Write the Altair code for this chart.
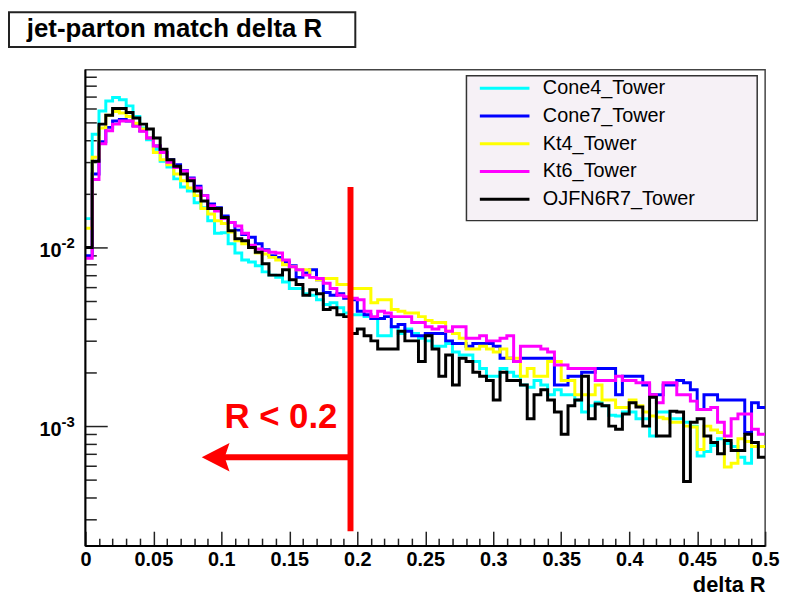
import altair as alt
import pandas as pd

# ---------------- data ----------------
bin_width = 0.005
names = ["Cone4_Tower", "Cone7_Tower", "Kt4_Tower", "Kt6_Tower", "OJFN6R7_Tower"]
colors = ["#00ffff", "#0000ff", "#ffff00", "#ff00ff", "#000000"]

cone4 = [0.0145, 0.043, 0.058, 0.066, 0.069, 0.067, 0.062, 0.054, 0.0466, 0.040,
         0.0355, 0.0304, 0.0282, 0.0242, 0.0218, 0.0207, 0.0178, 0.0167, 0.0141, 0.0120,
         0.0121, 0.0105, 0.0093, 0.0085, 0.0083, 0.0079, 0.0073, 0.0070, 0.0068, 0.0064,
         0.0059, 0.0059, 0.0055, 0.0054, 0.0051, 0.0048, 0.0049, 0.0046, 0.0043, 0.0042,
         0.0042, 0.0041, 0.0040, 0.0032, 0.0032, 0.0036, 0.0033, 0.0035, 0.0033, 0.0031,
         0.0030, 0.0028, 0.0028, 0.0029, 0.0026, 0.0025, 0.0025, 0.0023, 0.0021, 0.0019,
         0.0019, 0.0021, 0.0020, 0.0019, 0.0017, 0.00165, 0.0018, 0.0017, 0.0015, 0.0016,
         0.0015, 0.0015, 0.0014, 0.0012, 0.0013, 0.00136, 0.0013, 0.00115, 0.00114, 0.0012,
         0.0012, 0.0011, 0.0011, 0.00088, 0.0012, 0.0012, 0.0011, 0.0011, 0.00105, 0.0010,
         0.00068, 0.00072, 0.00078, 0.00085, 0.0008, 0.00077, 0.00067, 0.00062, 0.00077, 0.00077]

cone7 = [0.0090, 0.0258, 0.039, 0.047, 0.051, 0.052, 0.051, 0.048, 0.045, 0.041,
         0.037, 0.034, 0.031, 0.029, 0.027, 0.0245, 0.022, 0.0195, 0.0175, 0.0167,
         0.0150, 0.0138, 0.0125, 0.0118, 0.0114, 0.0105, 0.0097, 0.0090, 0.0088, 0.0083,
         0.0079, 0.0068, 0.0072, 0.0075, 0.0066, 0.0056, 0.0054, 0.0055, 0.0052, 0.0051,
         0.0044, 0.0042, 0.0040, 0.0040, 0.0041, 0.0036, 0.0037, 0.0034, 0.0032, 0.0032,
         0.0033, 0.0033, 0.0033, 0.0030, 0.0029, 0.0029, 0.0028, 0.0029, 0.0029, 0.0029,
         0.0028, 0.0024, 0.0024, 0.0023, 0.0024, 0.0024, 0.0024, 0.0024, 0.0024, 0.0017,
         0.0017, 0.0019, 0.0019, 0.0020, 0.0020, 0.0021, 0.0021, 0.0021, 0.0015, 0.0019,
         0.0019, 0.0019, 0.0017, 0.0015, 0.0015, 0.0017, 0.0017, 0.0018, 0.00175, 0.0016,
         0.00124, 0.0015, 0.0015, 0.0014, 0.0014, 0.0014, 0.0014, 0.00092, 0.00135, 0.00127]

kt4 = [0.0128, 0.032, 0.0466, 0.055, 0.0577, 0.0565, 0.054, 0.0495, 0.046, 0.041,
       0.034, 0.031, 0.029, 0.0258, 0.0236, 0.0215, 0.0195, 0.0165, 0.0154, 0.0141,
       0.0136, 0.0122, 0.0109, 0.0105, 0.0100, 0.0093, 0.0092, 0.0088, 0.0085, 0.0080,
       0.0078, 0.0075, 0.0075, 0.0068, 0.0066, 0.0067, 0.0067, 0.0062, 0.0062, 0.0059,
       0.0059, 0.0059, 0.0049, 0.0051, 0.0051, 0.0045, 0.0044, 0.0043, 0.0043, 0.0041,
       0.0039, 0.0038, 0.0038, 0.0034, 0.0033, 0.0031, 0.0027, 0.0027, 0.0028, 0.0027,
       0.0026, 0.0027, 0.0024, 0.0024, 0.0019, 0.0021, 0.0019, 0.0019, 0.0023, 0.0023,
       0.0018, 0.0018, 0.0015, 0.0015, 0.0015, 0.0017, 0.0014, 0.0014, 0.00127, 0.00127,
       0.0014, 0.0013, 0.0012, 0.00114, 0.00112, 0.0011, 0.00105, 0.00105, 0.0010, 0.00099,
       0.00074, 0.0010, 0.00095, 0.00092, 0.00059, 0.00062, 0.00085, 0.00082, 0.00077, 0.00077]

kt6 = [0.0087, 0.024, 0.038, 0.045, 0.049, 0.051, 0.051, 0.0476, 0.0447, 0.041,
       0.037, 0.034, 0.030, 0.028, 0.0268, 0.0242, 0.0215, 0.0195, 0.0171, 0.016,
       0.0145, 0.0138, 0.0132, 0.0120, 0.0103, 0.0098, 0.0096, 0.0094, 0.0093, 0.0085,
       0.0078, 0.0075, 0.0070, 0.0068, 0.0067, 0.0063, 0.0059, 0.0054, 0.0053, 0.0052,
       0.0051, 0.0044, 0.0041, 0.0044, 0.0043, 0.0041, 0.0041, 0.0041, 0.0038, 0.0038,
       0.0036, 0.0035, 0.0036, 0.0034, 0.0036, 0.0036, 0.0031, 0.0031, 0.0032, 0.0030,
       0.0030, 0.0031, 0.0032, 0.0023, 0.0028, 0.0028, 0.0028, 0.0027, 0.0026, 0.0022,
       0.0022, 0.0021, 0.0021, 0.0021, 0.0021, 0.0018, 0.0018, 0.0018, 0.0019, 0.0018,
       0.0018, 0.00175, 0.00175, 0.0015, 0.00135, 0.00175, 0.00175, 0.0015, 0.0015, 0.00138,
       0.00124, 0.00124, 0.00127, 0.00105, 0.00088, 0.0011, 0.00117, 0.00117, 0.00096, 0.0009]

ojfn6r7 = [0.0100, 0.0304, 0.049, 0.055, 0.060, 0.060, 0.057, 0.053, 0.049, 0.046,
           0.041, 0.0355, 0.031, 0.0285, 0.0258, 0.0236, 0.0207, 0.0182, 0.0165, 0.0165,
           0.0147, 0.0124, 0.0112, 0.0109, 0.0100, 0.0094, 0.0081, 0.0070, 0.0070, 0.0075,
           0.0066, 0.0062, 0.0054, 0.0058, 0.0055, 0.0045, 0.0046, 0.0042, 0.0041, 0.0033,
           0.0035, 0.0032, 0.0030, 0.0027, 0.0027, 0.0027, 0.0034, 0.0030, 0.0030, 0.0023,
           0.0032, 0.0027, 0.0019, 0.0025, 0.0017, 0.0024, 0.0023, 0.0020, 0.0019, 0.0018,
           0.0014, 0.0020, 0.0018, 0.0018, 0.0017, 0.0011, 0.0015, 0.0016, 0.0014, 0.0012,
           0.00090, 0.0013, 0.0014, 0.0019, 0.0011, 0.00133, 0.0013, 0.0010, 0.00096, 0.00117,
           0.00135, 0.00128, 0.0010, 0.00145, 0.00088, 0.00088, 0.00121, 0.0012, 0.00049, 0.00105,
           0.0011, 0.00088, 0.00081, 0.0007, 0.00083, 0.00073, 0.00073, 0.0009, 0.00081, 0.00067]

x_major = [0, 0.05, 0.1, 0.15, 0.2, 0.25, 0.3, 0.35, 0.4, 0.45, 0.5]
x_minor = [round(i * 0.01, 2) for i in range(1, 50) if i % 5 != 0]
y_major = [0.01, 0.001]
y_major_exp = ["-2", "-3"]
y_minor = [3e-4, 4e-4, 5e-4, 6e-4, 7e-4, 8e-4, 9e-4,
           2e-3, 3e-3, 4e-3, 5e-3, 6e-3, 7e-3, 8e-3, 9e-3,
           2e-2, 3e-2, 4e-2, 5e-2, 6e-2, 7e-2, 8e-2, 9e-2]

title_text = "jet-parton match delta R"
cut_x = 0.195
cut_label = "R < 0.2"

# ---------------- build table ----------------
rows = []
for name, vals in zip(names, [cone4, cone7, kt4, kt6, ojfn6r7]):
    for i, v in enumerate(vals):
        rows.append({"series": name, "x": round(i * bin_width, 4), "y": v})
    rows.append({"series": name, "x": 0.5, "y": vals[-1]})
df = pd.DataFrame(rows)

W, H = 685, 480
FONT = "Liberation Sans"
xs = alt.Scale(domain=[0, 0.5], nice=False, zero=False)
ys = alt.Scale(type="log", domain=[2.13e-4, 0.0987], nice=False)

one = pd.DataFrame({"a": [0]})

x_axis_major = alt.Axis(values=x_major, format="~g", offset=-15, tickSize=15, domain=False,
                        grid=False, labelFlush=False, labelOverlap=False, labelPadding=4,
                        labelFont=FONT, labelFontSize=20, labelFontWeight="bold", labelColor="black",
                        tickColor="#222", tickWidth=1.5, orient="bottom",
                        title="delta R", titleFont=FONT, titleFontSize=22, titleFontWeight="bold",
                        titleColor="black", titleAnchor="end", titleAlign="right",
                        titleBaseline="alphabetic", titleX=W, titleY=61)
y_axis_major = alt.Axis(values=y_major, offset=-22, tickSize=22, domain=False, grid=False,
                        labels=False, tickColor="#222", tickWidth=1.5, title=None, orient="left")
x_axis_minor = alt.Axis(values=x_minor, offset=-8, tickSize=8, domain=False, grid=False,
                        labels=False, title=None, tickColor="#222", tickWidth=1.5, orient="bottom")
y_axis_minor = alt.Axis(values=y_minor, offset=-11, tickSize=11, domain=False, grid=False,
                        labels=False, title=None, tickColor="#222", tickWidth=1.5, orient="left")

legend = alt.Legend(title=None, orient="none", legendX=411, legendY=7,
                    symbolType="M-2.5,0H2.5", symbolSize=400, symbolStrokeWidth=3,
                    labelFont=FONT, labelFontSize=20, labelColor="black",
                    labelOffset=27, rowPadding=6, padding=0, labelLimit=400)

# frame decorations
legend_box = alt.Chart(one).mark_rect(fill="#f6f1f6", stroke="#333", strokeWidth=1.5).encode(
    x=alt.value(384), x2=alt.value(677), y=alt.value(6), y2=alt.value(152))
title_box = alt.Chart(one).mark_rect(fill="white", stroke="#222", strokeWidth=2).encode(
    x=alt.value(-77), x2=alt.value(272), y=alt.value(-58), y2=alt.value(-23))
title_mark = alt.Chart(one).mark_text(align="left", baseline="alphabetic", font=FONT,
                                      fontSize=26, fontWeight="bold", color="black").encode(
    x=alt.value(-59), y=alt.value(-33), text=alt.value(title_text))
left_edge = alt.Chart(one).mark_rule(color="black", strokeWidth=2).encode(
    x=alt.value(0), y=alt.value(0), y2=alt.value(H))
bottom_edge = alt.Chart(one).mark_rule(color="black", strokeWidth=2).encode(
    x=alt.value(0), x2=alt.value(W), y=alt.value(H))

# y labels "10" with raised exponent
ylab_df = pd.DataFrame({"y": y_major, "base": ["10"] * len(y_major), "exp": y_major_exp})
ylab_base = alt.Chart(ylab_df).mark_text(align="right", baseline="alphabetic", font=FONT,
                                         fontSize=20, fontWeight="bold", color="black",
                                         dy=10).encode(
    x=alt.value(-24), y=alt.Y("y:Q", scale=ys, axis=None), text="base:N")
ylab_exp = alt.Chart(ylab_df).mark_text(align="left", baseline="alphabetic", font=FONT,
                                        fontSize=15, fontWeight="bold", color="black",
                                        dy=1).encode(
    x=alt.value(-24), y=alt.Y("y:Q", scale=ys, axis=None), text="exp:N")

lines = alt.Chart(df).mark_line(interpolate="step-after", strokeWidth=3, clip=True).encode(
    x=alt.X("x:Q", scale=xs, axis=x_axis_major),
    y=alt.Y("y:Q", scale=ys, axis=y_axis_major),
    color=alt.Color("series:N", scale=alt.Scale(domain=names, range=colors), legend=legend,
                    sort=names),
)
minor = alt.Chart(df).mark_line(opacity=0).encode(
    x=alt.X("x:Q", scale=xs, axis=x_axis_minor),
    y=alt.Y("y:Q", scale=ys, axis=y_axis_minor),
)

# red annotation
cut_df = pd.DataFrame({"x": [cut_x], "y": [2.58e-4], "y2": [0.0218]})
cut_line = alt.Chart(cut_df).mark_rule(color="#ff0000", strokeWidth=6).encode(
    x=alt.X("x:Q", scale=xs, axis=None),
    y=alt.Y("y:Q", scale=ys, axis=None), y2="y2:Q")
arrow_df = pd.DataFrame({"x": [0.099], "x2": [cut_x], "y": [6.7e-4]})
arrow_line = alt.Chart(arrow_df).mark_rule(color="#ff0000", strokeWidth=6).encode(
    x=alt.X("x:Q", scale=xs, axis=None), x2="x2:Q",
    y=alt.Y("y:Q", scale=ys, axis=None))
head_df = pd.DataFrame({"x": [0.0958], "y": [6.7e-4]})
arrow_head = alt.Chart(head_df).mark_point(shape="M-1,0L1,-1.03L0.65,0L1,1.03Z", filled=True,
                                           size=784, color="#ff0000", opacity=1).encode(
    x=alt.X("x:Q", scale=xs, axis=None),
    y=alt.Y("y:Q", scale=ys, axis=None))
label_df = pd.DataFrame({"x": [0.1438], "y": [9.75e-4], "t": [cut_label]})
cut_text = alt.Chart(label_df).mark_text(align="center", baseline="alphabetic", font=FONT,
                                         fontSize=35, fontWeight="bold", color="#ff0000").encode(
    x=alt.X("x:Q", scale=xs, axis=None),
    y=alt.Y("y:Q", scale=ys, axis=None), text="t:N")

chart = alt.layer(
    title_box, title_mark, legend_box, minor, lines, left_edge, bottom_edge,
    ylab_base, ylab_exp, cut_line, arrow_line, arrow_head, cut_text,
).resolve_axis(x="independent", y="independent").properties(
    width=W, height=H,
    autosize=alt.AutoSizeParams(type="none"),
    padding={"left": 78, "top": 60, "right": 18, "bottom": 48},
    background="white",
).configure_view(stroke="#444", strokeWidth=1.5)

chart.save("out.html", embed_options={"renderer": "svg", "actions": False})
